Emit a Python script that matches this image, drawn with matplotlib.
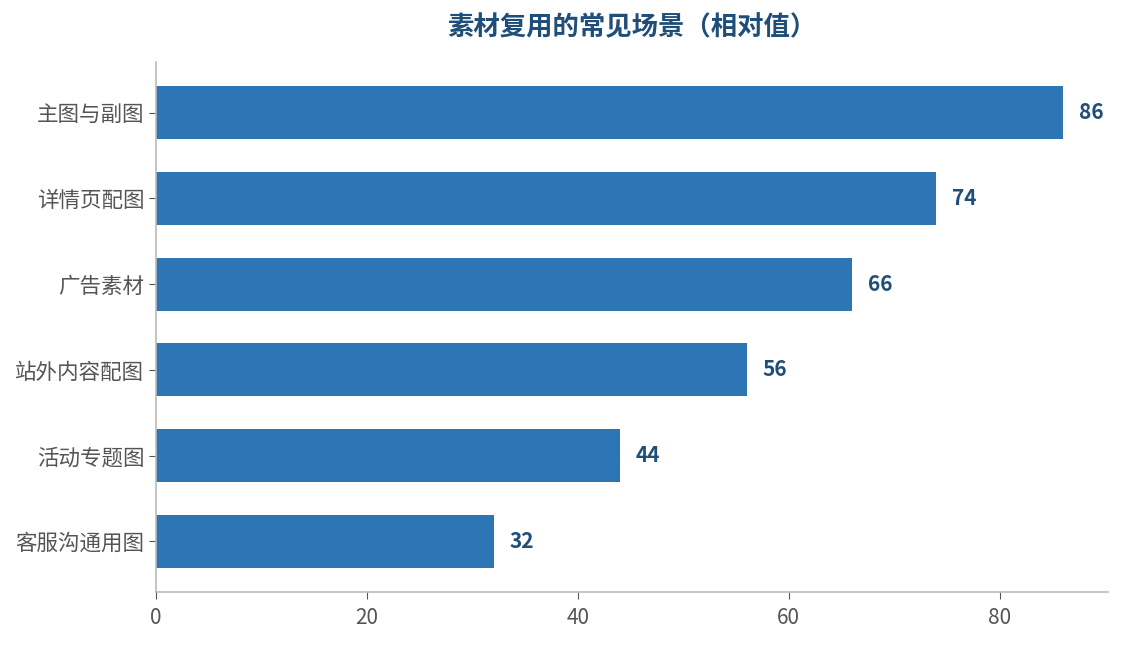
import matplotlib.pyplot as plt

plt.rcParams['font.family'] = ['Noto Sans CJK SC', 'DejaVu Sans']

categories = ['主图与副图', '详情页配图', '广告素材', '站外内容配图', '活动专题图', '客服沟通用图']
values = [86, 74, 66, 56, 44, 32]

fig, ax = plt.subplots(figsize=(11.24, 6.45), dpi=100)
fig.subplots_adjust(left=0.139, right=0.986, top=0.904, bottom=0.082)

y = list(range(len(categories)))[::-1]
ax.barh(y, values, height=0.62, color='#2e75b6')
for yi, v in zip(y, values):
    ax.text(v + 1.5, yi, str(v), va='center', ha='left', fontsize=15,
            fontweight='bold', color='#1f4e79')

ax.set_yticks(y)
ax.set_yticklabels(categories, fontsize=15.5, color='#555555')
ax.set_xlim(0, 90.3)
ax.set_xticks([0, 20, 40, 60, 80])
ax.tick_params(axis='x', labelsize=15, labelcolor='#555555', color='#555555', length=5, pad=6)
ax.tick_params(axis='y', color='#555555', length=5)

ax.spines['top'].set_visible(False)
ax.spines['right'].set_visible(False)
ax.spines['left'].set_color('#bbbbbb')
ax.spines['bottom'].set_color('#bbbbbb')
ax.spines['left'].set_linewidth(1.2)
ax.spines['bottom'].set_linewidth(1.2)

ax.set_title('素材复用的常见场景（相对值）', fontsize=19, fontweight='bold',
             color='#1f4e79', pad=19)

fig.savefig('out.png', dpi=100)
